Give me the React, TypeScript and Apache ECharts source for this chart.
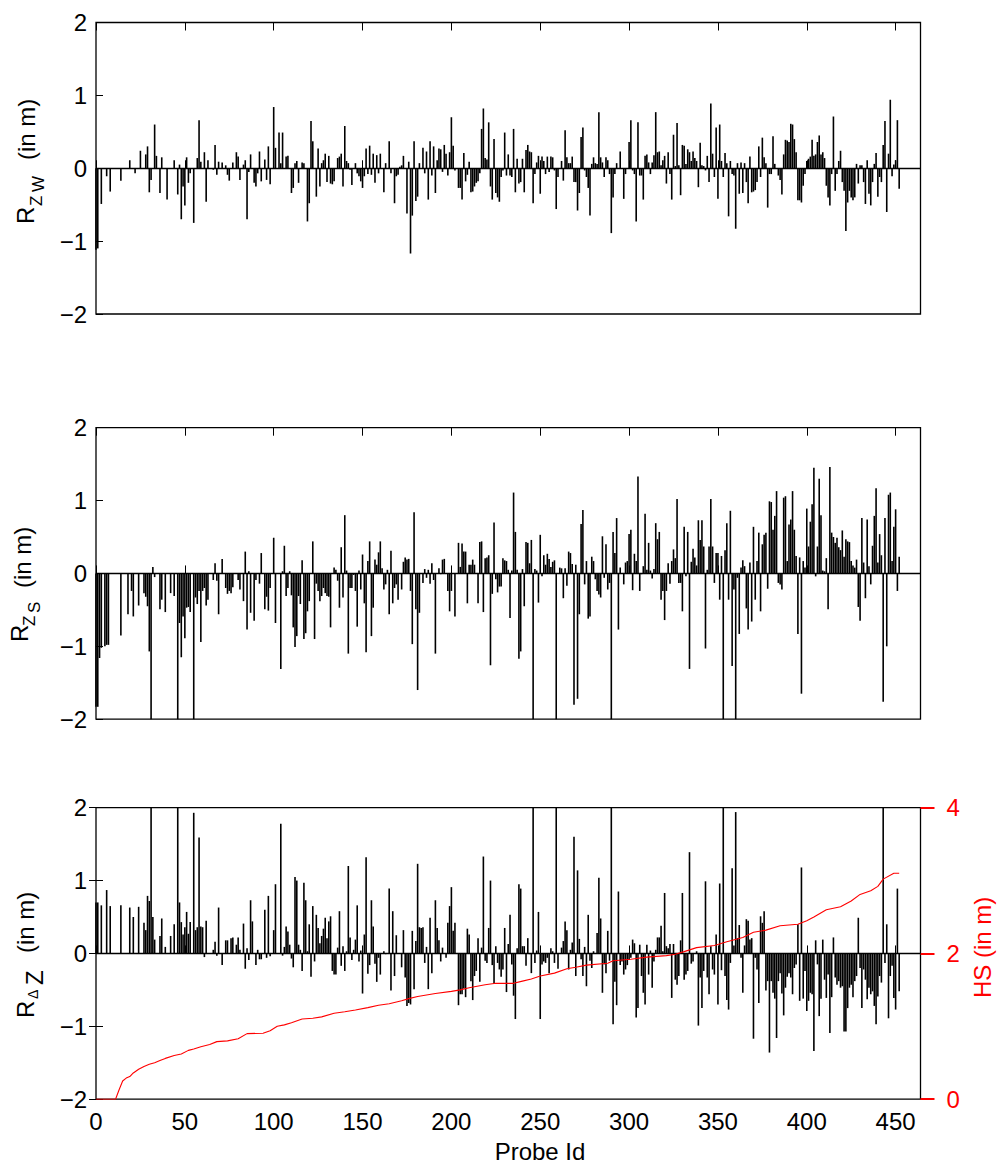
import React, { useEffect, useRef } from 'react';
import * as echarts from 'echarts';

const FONT = '"Liberation Sans", Arial, Helvetica, sans-serif';

const probeTicks = [0, 50, 100, 150, 200, 250, 300, 350, 400, 450];
const probeMax = 464;

// residuals per probe id, [probe, value in m]
const rZW: [number, number][] = [
  [0, -1.12], [1, -1.1], [3, -0.49], [6, -0.11], [8, -0.32], [14, -0.17], [19, 0.11], [22, -0.07], [25, 0.24], [28, 0.19],
  [29, 0.3], [30, -0.33], [31, -0.16], [33, 0.6], [34, 0.17], [36, -0.34], [37, 0.15], [40, -0.43], [44, 0.11], [46, -0.36],
  [47, 0.05], [48, -0.7], [49, -0.25], [50, -0.51], [51, 0.15], [52, -0.2], [53, -0.07], [55, -0.75], [57, 0.14], [58, 0.66],
  [59, 0.09], [61, 0.22], [62, -0.46], [63, 0.11], [66, -0.02], [67, 0.32], [68, -0.09], [69, 0.09], [71, 0.08], [73, 0.04],
  [74, -0.09], [75, -0.17], [77, 0.08], [79, 0.22], [80, 0.16], [81, -0.16], [83, 0.05], [84, 0.11], [85, -0.7], [86, -0.05],
  [87, 0.19], [89, -0.2], [90, -0.25], [91, -0.07], [92, 0.23], [93, -0.18], [95, 0.12], [96, -0.16], [97, 0.3], [98, -0.22],
  [100, 0.84], [101, 0.28], [103, 0.49], [104, 0.07], [105, 0.49], [107, 0.16], [108, 0.17], [110, -0.34], [111, -0.27], [112, 0.07],
  [113, 0.1], [114, -0.2], [116, 0.08], [117, 0.07], [119, -0.73], [120, -0.48], [121, 0.65], [122, 0.37], [124, -0.39], [125, 0.27],
  [126, -0.25], [127, 0.07], [128, 0.11], [129, 0.2], [130, -0.19], [131, 0.17], [132, -0.21], [133, -0.22], [134, -0.18], [136, 0.14],
  [137, 0.16], [138, 0.2], [139, -0.25], [140, 0.58], [141, 0.1], [142, 0.07], [143, -0.02], [144, -0.23], [146, 0.07], [147, -0.07],
  [148, -0.11], [149, -0.18], [150, -0.27], [151, -0.11], [152, 0.27], [153, -0.08], [154, 0.31], [155, -0.09], [156, 0.2], [157, -0.2],
  [158, 0.18], [159, -0.07], [160, 0.2], [162, -0.33], [163, 0.07], [165, 0.37], [166, -0.07], [168, -0.48], [169, -0.11], [170, -0.09],
  [171, 0.02], [172, 0.04], [173, 0.17], [175, -0.62], [176, 0.09], [177, -1.17], [178, -0.65], [179, 0.37], [180, -0.45], [181, -0.39],
  [182, 0.07], [184, 0.28], [185, -0.07], [186, 0.23], [187, -0.43], [188, 0.37], [189, -0.1], [190, 0.3], [191, -0.34], [192, 0.11],
  [193, 0.27], [194, 0.26], [195, -0.05], [196, 0.32], [197, 0.2], [198, -0.1], [199, 0.22], [200, 0.7], [201, 0.31], [202, -0.03],
  [204, -0.27], [205, -0.27], [206, -0.43], [207, 0.21], [208, -0.18], [209, -0.09], [210, 0.09], [211, -0.33], [212, -0.32], [213, -0.25],
  [214, -0.2], [215, -0.18], [216, -0.07], [217, 0.54], [218, 0.82], [219, 0.14], [220, 0.12], [221, 0.63], [222, -0.25], [223, -0.43],
  [224, 0.4], [225, -0.34], [226, -0.4], [227, -0.46], [228, -0.12], [229, -0.03], [230, 0.49], [231, -0.1], [232, 0.19], [233, -0.1],
  [234, -0.12], [235, 0.54], [236, -0.33], [237, 0.13], [238, -0.21], [239, -0.19], [240, 0.13], [241, -0.33], [242, 0.25], [243, 0.32],
  [244, 0.23], [245, 0.22], [246, -0.48], [247, -0.08], [248, 0.08], [249, 0.17], [250, -0.35], [251, 0.16], [252, 0.1], [253, -0.08],
  [254, 0.16], [255, -0.05], [256, 0.16], [257, 0.15], [258, -0.03], [259, -0.56], [260, -0.12], [262, 0.1], [263, -0.17], [264, 0.52],
  [265, 0.15], [266, 0.07], [267, 0.07], [268, 0.16], [269, -0.19], [270, -0.19], [271, -0.58], [272, -0.34], [273, 0.43], [274, 0.56],
  [275, -0.03], [276, -0.12], [277, -0.27], [278, -0.65], [279, 0.06], [280, 0.15], [281, 0.07], [282, 0.06], [283, 0.77], [284, 0.15],
  [285, 0.08], [286, -0.12], [287, 0.15], [288, 0.11], [289, -0.08], [290, -0.89], [291, -0.4], [292, -0.08], [293, 0.07], [295, 0.23],
  [297, -0.42], [298, -0.08], [300, 0.36], [301, 0.66], [302, -0.03], [303, -0.08], [304, -0.73], [305, 0.63], [306, -0.1], [307, -0.1],
  [308, -0.43], [309, 0.17], [310, 0.19], [311, 0.08], [312, -0.08], [313, 0.08], [314, 0.18], [315, 0.77], [316, 0.22], [317, 0.23],
  [318, 0.04], [319, 0.11], [320, 0.17], [321, -0.21], [322, 0.22], [323, -0.08], [324, -0.43], [325, 0.46], [326, 0.03], [327, 0.62],
  [328, 0.04], [329, -0.37], [330, 0.32], [331, 0.31], [332, 0.06], [333, 0.26], [334, 0.22], [335, 0.1], [336, 0.23], [337, 0.14],
  [338, 0.1], [339, -0.26], [340, 0.35], [341, 0.04], [342, 0.03], [343, -0.03], [344, 0.17], [345, -0.19], [346, 0.89], [347, 0.2],
  [348, -0.12], [349, 0.56], [350, -0.42], [351, 0.6], [352, 0.1], [353, -0.12], [354, 0.21], [355, 0.07], [356, -0.66], [357, 0.1],
  [358, -0.08], [359, -0.1], [360, -0.83], [361, 0.07], [362, -0.35], [363, 0.08], [364, -0.34], [365, 0.07], [366, -0.19], [367, -0.48],
  [368, 0.16], [369, -0.33], [370, -0.32], [371, -0.3], [372, -0.19], [373, 0.3], [374, -0.12], [375, 0.42], [376, 0.15], [377, 0.07],
  [378, -0.54], [379, -0.08], [380, -0.08], [381, 0.44], [382, 0.06], [384, -0.1], [385, -0.16], [386, -0.36], [387, 0.19], [388, 0.39],
  [389, 0.38], [390, 0.36], [391, 0.61], [392, 0.6], [393, 0.4], [394, 0.22], [395, -0.44], [396, -0.44], [397, -0.47], [398, -0.24],
  [399, -0.08], [400, 0.1], [401, 0.13], [402, 0.16], [403, 0.39], [404, 0.17], [405, 0.19], [406, 0.36], [407, 0.45], [408, 0.19],
  [409, 0.22], [410, 0.14], [411, -0.24], [412, -0.4], [413, -0.51], [414, -0.08], [415, 0.71], [416, -0.31], [417, -0.08], [418, 0.1],
  [419, 0.24], [420, -0.19], [421, -0.31], [422, -0.86], [423, -0.47], [424, -0.31], [425, -0.4], [426, -0.44], [427, -0.4], [428, 0.06],
  [429, -0.21], [430, 0.04], [431, 0.04], [432, -0.19], [433, -0.49], [434, 0.11], [435, -0.35], [436, -0.51], [437, -0.19], [438, 0.06],
  [439, 0.21], [440, -0.39], [441, -0.12], [442, -0.19], [443, 0.32], [444, 0.65], [445, -0.6], [446, 0.2], [447, 0.94], [448, -0.11],
  [449, 0.05], [450, 0.11], [451, 0.66], [452, -0.28],
];

const rZS: [number, number][] = [
  [0, -1.83], [1, -1.83], [2, -1.16], [3, -1.02], [5, -1.0], [6, -0.98], [7, -0.98], [14, -0.85], [18, -0.56], [20, -0.24],
  [21, -0.59], [24, -0.44], [27, -0.27], [28, -0.32], [29, -0.45], [30, -1.07], [31, -2], [32, 0.09], [33, -0.05], [36, -0.49],
  [37, -0.36], [39, -0.53], [42, -0.27], [44, -0.31], [46, -2], [47, -0.68], [48, -1.15], [49, -0.59], [50, -0.89], [51, -0.47],
  [52, -0.46], [53, -0.53], [55, -2], [56, -0.33], [57, -0.42], [58, -0.24], [59, -0.94], [60, -0.24], [61, -0.2], [62, -0.44],
  [63, -0.36], [66, -0.09], [67, 0.14], [68, -0.1], [69, -0.56], [71, 0.2], [73, -0.2], [74, -0.28], [75, -0.24], [76, -0.27],
  [77, -0.19], [80, -0.09], [81, -0.22], [83, -0.38], [84, 0.3], [85, -0.77], [86, 0.03], [87, -0.54], [89, -0.65], [90, -0.09],
  [92, -0.14], [93, 0.28], [95, -0.49], [96, -0.32], [97, -0.51], [98, -0.2], [100, 0.49], [101, -0.68], [104, -1.31], [105, 0.03],
  [106, 0.38], [107, -0.31], [108, -0.2], [109, 0.03], [110, -0.3], [111, -0.74], [112, -1.01], [113, -0.86], [114, -0.31], [115, -0.42],
  [116, 0.18], [117, -0.9], [118, -0.82], [119, -0.52], [120, -0.38], [122, 0.44], [123, -0.9], [124, -0.14], [125, -0.24], [126, -0.38],
  [127, -0.31], [128, -0.2], [129, -0.27], [130, -0.31], [131, -0.32], [132, -0.74], [134, 0.08], [135, 0.05], [136, -0.1], [137, -0.47],
  [138, 0.36], [139, -0.33], [140, 0.8], [141, 0.04], [142, -1.1], [143, -0.2], [144, -0.2], [145, -0.02], [146, -0.24], [147, -0.73],
  [148, 0.04], [149, -0.22], [150, 0.26], [151, -0.41], [152, -1.08], [153, 0.17], [154, 0.44], [155, -0.86], [156, -0.47], [157, 0.19],
  [158, 0.12], [159, 0.29], [160, 0.44], [161, 0.07], [162, -0.22], [163, -0.15], [164, 0.05], [165, -0.56], [166, 0.31], [167, -0.41],
  [168, -0.2], [169, -0.15], [170, -0.36], [172, -0.22], [173, 0.16], [174, 0.22], [175, 0.19], [176, 0.2], [177, -0.24], [178, -0.97],
  [179, 0.84], [180, -0.49], [181, -1.6], [182, -0.54], [184, -0.13], [185, 0.06], [186, -0.06], [187, 0.05], [188, -0.14], [189, 0.14],
  [190, -0.09], [191, -1.1], [193, 0.07], [194, -0.01], [195, 0.19], [196, 0.2], [198, -0.24], [199, -0.52], [200, -0.24], [202, -0.59],
  [204, 0.42], [205, 0.09], [206, 0.41], [207, 0.3], [208, 0.3], [209, -0.41], [210, 0.12], [211, 0.12], [212, 0.19], [213, 0.12],
  [215, -0.41], [216, 0.43], [217, 0.44], [218, -0.53], [219, 0.21], [220, 0.22], [221, 0.25], [222, -1.26], [223, -0.28], [224, 0.7],
  [225, -0.08], [226, -0.26], [227, -0.18], [228, -0.18], [229, 0.21], [230, 0.18], [231, 0.17], [232, 0.05], [233, -0.61], [234, 0.04],
  [235, 1.11], [236, 0.57], [237, 0.05], [238, -1.17], [239, -1.07], [240, 0.06], [241, -0.45], [242, 0.43], [243, 0.42], [244, 0.14],
  [245, 0.46], [246, -2], [247, 0.06], [248, 0.04], [249, -0.4], [250, 0.53], [251, -0.04], [252, 0.25], [253, 0.12], [254, 0.27],
  [255, 0.2], [256, 0.09], [257, 0.16], [258, 0.18], [259, -2], [261, 0.08], [262, 0.07], [263, -0.34], [264, 0.07], [265, -0.17],
  [266, 0.3], [267, 0.28], [268, 0.13], [269, -1.8], [270, 0.12], [271, -1.72], [272, -0.56], [273, 0.68], [274, 0.87], [275, -0.15],
  [276, 0.17], [277, -0.62], [278, -0.59], [279, 0.23], [280, 0.17], [281, -0.08], [282, -0.24], [283, -0.29], [284, -0.33], [285, 0.51],
  [286, -0.06], [287, 0.4], [288, -0.22], [289, -0.13], [290, -2], [291, 0.57], [292, 0.28], [293, 0.76], [294, -0.77], [295, 0.08],
  [297, -0.15], [298, 0.15], [299, 0.17], [300, 0.54], [301, 0.6], [302, -0.23], [303, 0.27], [304, 0.17], [305, 1.33], [306, -0.24],
  [307, -0.01], [308, 0.1], [309, 0.82], [310, 0.05], [311, 0.42], [312, 0.04], [313, -0.07], [314, 0.06], [315, 0.69], [316, 0.47],
  [317, 0.57], [318, -0.36], [319, -0.24], [320, -0.64], [321, -0.24], [322, 0.14], [323, -0.14], [324, 0.17], [325, 0.33], [326, 0.21],
  [327, 1.02], [328, -0.13], [329, -0.13], [330, -0.52], [331, 0.64], [332, -0.04], [333, 0.57], [334, -1.31], [335, 0.16], [336, 0.34],
  [337, 0.22], [338, 0.11], [339, 0.73], [340, 0.46], [341, 0.73], [342, 0.37], [343, -1.03], [344, 0.05], [345, 0.37], [346, 1.02],
  [347, 0.37], [348, -0.13], [349, 0.28], [350, 0.28], [351, -0.36], [352, 0.24], [353, -2], [354, 0.32], [355, 0.69], [356, -0.36],
  [357, 0.86], [358, -1.27], [359, -0.22], [360, -2], [361, -0.06], [362, -0.83], [363, 0.08], [364, 0.18], [365, 0.1], [366, -0.48],
  [367, -0.77], [368, 0.15], [369, -0.66], [370, 0.64], [371, -0.36], [372, 0.17], [373, 0.56], [374, -0.52], [375, 0.4], [376, 0.53],
  [377, 0.56], [378, -0.21], [379, 0.99], [380, 0.98], [381, 0.6], [382, 0.79], [383, 1.13], [384, -0.13], [385, -0.15], [386, -0.22],
  [387, 1.04], [388, 1.06], [389, 0.17], [390, 0.67], [391, 0.74], [392, 1.13], [393, 0.6], [394, 0.24], [395, -0.83], [396, 0.22],
  [397, -1.65], [398, 0.17], [399, 0.08], [400, 0.89], [401, 0.37], [402, 0.71], [403, 0.95], [404, 1.45], [405, -0.04], [406, 0.37],
  [407, 1.3], [408, 0.8], [409, 0.04], [410, 0.03], [411, 0.21], [412, -0.49], [413, 1.46], [414, 0.56], [415, 0.5], [416, 0.42],
  [417, 0.49], [418, 0.36], [419, 0.32], [420, 0.59], [421, 0.23], [422, 0.47], [423, 0.44], [424, 0.43], [425, 0.17], [426, 0.11],
  [427, 0.08], [428, 0.19], [429, -0.46], [430, -0.65], [431, 0.76], [432, 0.15], [433, -0.34], [434, 0.74], [435, 0.1], [436, -0.15],
  [437, 0.38], [438, 0.79], [439, 1.17], [440, 0.15], [441, 0.54], [442, 0.25], [443, -1.76], [444, 0.76], [445, -1.0], [446, 1.08],
  [447, 1.11], [448, 0.17], [449, 0.64], [450, 0.88], [451, -0.24], [452, 0.23],
];

const rDZ: [number, number][] = [
  [0, 0.7], [1, 0.7], [3, 0.66], [6, 0.87], [8, 0.65], [14, 0.66], [19, 0.63], [21, 0.5], [24, 0.64], [27, 0.42],
  [28, 0.32], [29, 0.79], [30, 0.72], [31, 2], [32, 0.5], [33, 0.19], [36, 0.24], [37, 0.48], [39, 0.09], [42, 0.24],
  [44, 0.4], [46, 2], [47, 0.7], [48, 0.43], [49, 0.26], [50, 0.36], [51, 0.57], [52, 0.27], [53, 0.43], [55, 1.93],
  [56, 0.32], [57, 0.36], [58, 1.59], [59, 0.37], [60, 0.36], [61, -0.05], [62, 0.45], [66, 0.05], [67, 0.16], [68, -0.03],
  [69, 0.63], [71, -0.16], [73, 0.18], [74, 0.18], [76, 0.21], [77, 0.22], [79, 0.12], [80, 0.22], [81, 0.05], [83, 0.41],
  [84, -0.21], [85, 0.07], [86, -0.09], [87, 0.73], [88, 0.44], [90, -0.16], [91, 0.05], [92, -0.08], [93, -0.08], [95, 0.6],
  [96, -0.06], [97, 0.79], [98, -0.04], [100, 0.32], [101, 0.95], [104, 1.78], [105, -0.03], [106, 0.09], [107, 0.37], [108, 0.3],
  [109, 0.12], [110, -0.07], [111, -0.19], [112, 1.05], [113, 1.0], [114, 0.12], [115, 0.05], [116, -0.24], [117, 0.97], [118, 0.73],
  [119, 0.03], [120, 0.4], [121, -0.32], [122, 0.65], [123, -0.11], [124, 0.53], [125, 0.35], [126, 0.14], [127, 0.24], [128, 0.34],
  [129, 0.49], [130, 0.21], [131, 0.44], [132, 0.51], [133, -0.24], [134, -0.29], [135, -0.29], [136, 0.08], [137, 0.58], [138, -0.17],
  [139, 0.1], [140, -0.24], [141, 0.03], [142, 1.2], [143, 0.22], [144, -0.09], [145, 0.05], [146, 0.19], [147, 0.66], [148, -0.11],
  [149, 0.04], [150, -0.55], [151, 0.26], [152, 1.32], [153, -0.28], [154, -0.16], [155, 0.73], [156, 0.37], [157, -0.14], [158, -0.39],
  [159, -0.06], [160, -0.29], [162, 0.03], [163, -0.01], [165, 0.89], [166, -0.51], [167, 0.58], [168, -0.31], [169, 0.25], [172, -0.19],
  [173, 0.32], [174, -0.33], [175, -0.72], [176, -0.68], [177, -0.7], [178, 0.31], [179, -0.49], [180, 0.17], [181, 1.23], [182, 0.36],
  [183, 0.35], [184, 0.36], [185, -0.13], [186, 0.09], [187, -0.49], [188, 0.49], [189, -0.27], [191, 0.73], [192, 0.35], [193, 0.18],
  [194, -0.11], [195, 0.08], [197, -0.06], [198, 0.42], [199, 0.65], [200, 0.91], [201, 0.31], [202, 0.42], [204, -0.71], [205, -0.56],
  [206, -0.56], [207, -0.48], [208, -0.6], [209, 0.34], [210, 0.26], [211, -0.38], [212, -0.64], [213, -0.31], [214, -0.24], [215, 0.21],
  [216, -0.39], [217, 0.08], [218, 1.33], [219, -0.1], [220, -0.13], [221, 0.35], [222, 1.0], [223, -0.16], [224, -0.42], [225, 0.1],
  [226, -0.13], [227, -0.22], [228, -0.32], [229, -0.22], [230, 0.35], [231, -0.53], [232, 0.13], [233, 0.53], [234, -0.15], [235, -0.58],
  [236, -0.9], [237, 0.07], [238, 0.95], [239, 0.89], [240, 0.1], [241, 0.1], [242, -0.17], [243, 0.21], [244, -0.01], [245, -0.27],
  [246, 2], [247, -0.13], [248, 0.04], [249, 0.57], [250, -0.9], [251, -0.15], [252, -0.11], [253, -0.13], [254, -0.06], [255, -0.27],
  [256, 0.07], [257, 0.03], [258, -0.13], [259, 2], [260, -0.21], [262, 0.08], [263, 0.17], [264, 0.44], [265, 0.32], [266, -0.22],
  [267, 0.05], [268, 0.15], [269, 1.6], [270, -0.31], [271, 1.14], [272, 0.2], [273, -0.08], [274, -0.31], [275, 0.09], [276, -0.45],
  [277, 0.53], [278, -0.1], [279, -0.2], [280, 0.03], [282, 0.28], [283, 1.04], [284, 0.48], [285, -0.54], [286, -0.15], [287, -0.27],
  [288, 0.31], [289, -0.1], [290, 2], [291, -0.97], [292, -0.39], [293, -0.71], [294, 0.85], [295, -0.16], [296, -0.11], [297, -0.29],
  [298, -0.22], [299, -0.16], [300, -0.09], [301, -0.06], [302, 0.19], [303, 0.14], [304, -0.88], [305, -0.75], [306, 0.12], [307, -0.31],
  [308, -0.54], [309, -0.7], [310, 0.12], [311, -0.29], [312, 0.04], [313, -0.47], [314, -0.11], [315, 0.05], [316, 0.22], [317, 0.22],
  [318, 0.38], [319, 0.03], [320, 0.83], [321, 0.1], [322, 0.07], [323, 0.13], [324, -0.61], [325, 0.13], [326, -0.36], [327, -0.43],
  [328, -0.31], [329, 0.18], [330, 0.83], [331, -0.36], [332, -0.29], [333, -0.24], [334, 1.39], [335, -0.14], [336, -0.11], [338, 0.03],
  [339, -0.99], [340, -0.33], [341, -0.75], [342, -0.24], [343, 0.99], [344, -0.33], [345, -0.56], [346, 0.1], [347, -0.22], [348, -0.29],
  [349, 0.26], [350, -0.7], [351, 0.96], [352, -0.23], [353, 2], [354, -0.31], [355, -0.64], [356, -0.77], [357, -0.13], [358, 1.17],
  [359, 0.11], [360, 1.94], [361, 0.21], [362, 0.39], [363, -0.06], [364, -0.54], [365, 0.11], [366, 0.47], [367, 0.45], [368, 0.19],
  [369, 0.21], [370, -1.17], [371, -0.06], [372, -0.22], [373, -0.68], [374, 0.51], [375, 0.42], [376, 0.58], [377, -0.51], [378, -0.38],
  [379, -1.36], [380, -0.38], [381, -0.54], [382, -0.62], [383, -1.16], [384, -0.38], [385, -0.27], [386, -0.55], [387, -0.85], [388, -0.47],
  [389, -0.32], [390, -0.27], [391, -0.33], [392, -0.56], [393, -0.2], [394, -0.15], [395, 0.4], [396, -0.65], [397, 1.18], [398, -0.62],
  [399, -0.24], [400, -0.79], [401, -0.65], [402, -0.54], [403, -0.56], [404, -1.34], [405, 0.18], [406, -0.15], [407, -0.86], [408, -0.62],
  [409, 0.19], [410, -0.36], [411, -0.61], [412, -0.29], [413, -1.09], [414, -0.6], [415, 0.22], [416, -0.33], [417, -0.43], [418, -0.38],
  [419, -0.47], [420, -0.45], [421, -1.07], [422, -1.07], [423, -0.75], [424, -0.47], [425, -0.43], [426, -0.6], [427, -0.38], [428, -0.31],
  [429, 0.49], [430, -0.2], [431, -0.75], [432, -0.22], [433, -0.36], [434, -0.63], [435, -0.47], [436, -0.56], [437, -0.52], [438, -0.72],
  [439, -0.97], [440, -0.59], [441, -0.31], [442, -0.4], [443, 2], [444, -0.13], [445, 0.4], [446, -0.89], [447, -0.31], [448, -0.17],
  [449, -0.61], [450, -0.77], [451, 0.89], [452, -0.52],
];

// HS (in m) along the probes, right axis of the bottom panel
const hs: [number, number][] = [
  [0, 0], [11, 0], [13, 0.13], [15, 0.25], [17, 0.29], [19, 0.31], [21, 0.36], [24, 0.41], [27, 0.45], [30, 0.48],
  [33, 0.5], [36, 0.53], [39, 0.56], [44, 0.6], [48, 0.62], [52, 0.67], [55, 0.69], [59, 0.72], [64, 0.75], [68, 0.79],
  [74, 0.8], [80, 0.83], [85, 0.9], [94, 0.905], [98, 0.94], [102, 1.0], [106, 1.02], [110, 1.05], [116, 1.1], [122, 1.11],
  [127, 1.13], [134, 1.18], [140, 1.2], [146, 1.225], [153, 1.257], [159, 1.29], [165, 1.31], [172, 1.35], [176, 1.38], [181, 1.41],
  [191, 1.45], [200, 1.48], [205, 1.5], [210, 1.53], [219, 1.57], [225, 1.59], [235, 1.59], [240, 1.62], [245, 1.65], [250, 1.69],
  [258, 1.73], [265, 1.79], [270, 1.81], [276, 1.84], [288, 1.865], [291, 1.9], [301, 1.92], [310, 1.95], [321, 1.97], [326, 1.99],
  [331, 2.025], [338, 2.08], [348, 2.11], [355, 2.16], [364, 2.22], [370, 2.29], [377, 2.32], [385, 2.38], [395, 2.4], [400, 2.45],
  [404, 2.5], [411, 2.6], [419, 2.64], [425, 2.72], [430, 2.81], [436, 2.86], [440, 2.92], [443, 3.02], [449, 3.1], [452, 3.1],
];

const gridTops = [22.5, 427.7, 807.7];

const minus = (v: number) => (v < 0 ? '\u2212' + Math.abs(v) : String(v));

// rotated (bottom-to-top) text piece, x = glyph centre, y = start of the text
const vText = (text: string, x: number, y: number, size: number, color = '#000') => ({
  type: 'text',
  x,
  y,
  rotation: Math.PI / 2,
  silent: true,
  style: {
    text,
    fill: color,
    font: `${size}px ${FONT}`,
    align: 'left',
    verticalAlign: 'middle',
    textAlign: 'left',
    textVerticalAlign: 'middle',
  },
});

const App: React.FC = () => {
  const chartRef = useRef<HTMLDivElement>(null);

  useEffect(() => {
    if (!chartRef.current) return;
    const chart = echarts.init(chartRef.current, undefined, { renderer: 'svg' });

    const xAxis: any[] = [];
    gridTops.forEach((_, i) => {
      const base = {
        type: 'value',
        gridIndex: i,
        min: 0,
        max: probeMax,
        axisLine: { show: false },
        splitLine: { show: false },
      };
      xAxis.push({
        ...base,
        position: 'bottom',
        axisTick: { show: true, inside: true, length: 8, customValues: probeTicks, lineStyle: { color: '#000', width: 1 } },
        axisLabel: {
          show: i === 2,
          customValues: probeTicks,
          margin: 10,
          fontSize: 24,
          fontFamily: FONT,
          color: '#000',
        },
      });
      xAxis.push({
        ...base,
        position: 'top',
        axisTick: { show: i < 2, inside: true, length: 8, customValues: probeTicks, lineStyle: { color: '#000', width: 1 } },
        axisLabel: { show: false },
      });
    });

    const leftY = (i: number) => ({
      type: 'value',
      gridIndex: i,
      position: 'left',
      min: -2,
      max: 2,
      interval: 1,
      axisLine: { show: false },
      splitLine: { show: false },
      axisTick: { inside: true, length: 7, lineStyle: { color: '#000', width: 1 } },
      axisLabel: { margin: 9, fontSize: 24, fontFamily: FONT, color: '#000', formatter: minus },
    });

    const yAxis: any[] = [
      leftY(0),
      leftY(1),
      leftY(2),
      {
        type: 'value',
        gridIndex: 2,
        position: 'right',
        min: -2,
        max: 2,
        interval: 1,
        axisLine: { show: false },
        splitLine: { show: false },
        axisTick: { inside: true, length: 7, lineStyle: { color: '#000', width: 1 } },
        axisLabel: { show: false },
      },
      {
        type: 'value',
        gridIndex: 2,
        position: 'right',
        min: 0,
        max: 4,
        interval: 2,
        axisLine: { show: false },
        splitLine: { show: false },
        axisTick: { inside: false, length: 14, lineStyle: { color: '#ff0000', width: 2 } },
        axisLabel: { margin: 26, fontSize: 24, fontFamily: FONT, color: '#ff0000' },
      },
    ];

    const zeroLine = {
      silent: true,
      symbol: ['none', 'none'],
      label: { show: false },
      lineStyle: { color: '#000', width: 1.3, type: 'solid' },
      data: [{ yAxis: 0 }],
    };

    const barSeries = (data: [number, number][], i: number) => ({
      type: 'bar',
      xAxisIndex: i * 2,
      yAxisIndex: i,
      data,
      barWidth: 1.6,
      itemStyle: { color: '#000' },
      clip: true,
      markLine: zeroLine,
    });

    const option: any = {
      animation: false,
      backgroundColor: '#fff',
      grid: gridTops.map((top) => ({
        left: 96,
        top,
        width: 824.5,
        height: 291.5,
        show: true,
        borderColor: '#000',
        borderWidth: 1.3,
        backgroundColor: 'rgba(0,0,0,0)',
      })),
      xAxis,
      yAxis,
      series: [
        barSeries(rZW, 0),
        barSeries(rZS, 1),
        barSeries(rDZ, 2),
        {
          type: 'line',
          xAxisIndex: 4,
          yAxisIndex: 4,
          data: hs,
          showSymbol: false,
          symbol: 'none',
          z: 5,
          lineStyle: { color: '#ff0000', width: 1.1 },
        },
      ],
      graphic: [
        vText('R', 25, 224, 24),
        vText('Z', 36, 206, 17),
        vText('W', 38, 192, 17),
        vText('(in m)', 26, 160, 24),
        vText('R', 19, 642, 24),
        vText('Z', 29, 626, 17),
        vText('S', 34, 613, 17),
        vText('(in m)', 22, 588, 24),
        vText('R', 25, 1018, 24),
        vText('\u0394', 33, 999, 14),
        vText('Z', 34.5, 985, 24),
        vText('(in m)', 25, 953, 24),
        vText('HS (in m)', 982, 998, 24, '#ff0000'),
        {
          type: 'text',
          x: 540,
          y: 1151,
          silent: true,
          style: {
            text: 'Probe Id',
            fill: '#000',
            font: `24px ${FONT}`,
            align: 'center',
            verticalAlign: 'middle',
            textAlign: 'center',
            textVerticalAlign: 'middle',
          },
        },
      ],
    };

    chart.setOption(option);
    return () => {
      chart.dispose();
    };
  }, []);

  return (
    <div
      ref={chartRef}
      style={{ position: 'absolute', left: 0, top: 0, width: 999, height: 1165, background: '#fff' }}
    />
  );
};

export default App;
